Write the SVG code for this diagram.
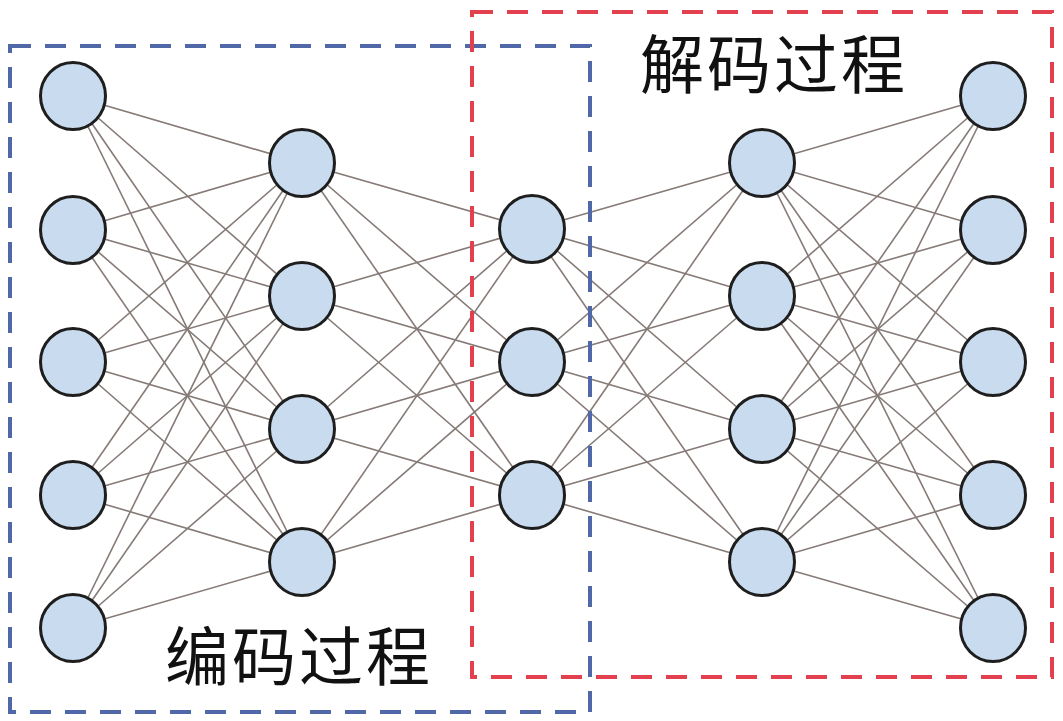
<svg xmlns="http://www.w3.org/2000/svg" width="1063" height="721" viewBox="0 0 1063 721">
<style>
.n{fill:#c9dbee;stroke:#1e1e1e;stroke-width:3}
.e line{stroke:#857a76;stroke-width:1.6}
.box{fill:none;stroke-width:4;stroke-dasharray:21 14}
.t{font-family:"Noto Sans CJK SC","Noto Sans CJK TC",sans-serif;font-size:64px;fill:#111}
</style>
<rect width="1063" height="721" fill="#fff"/>
<g id="connectors" class="e">
<!-- L1 -> L2 -->
<line x1="73" y1="96" x2="302" y2="163"/><line x1="73" y1="96" x2="302" y2="296"/><line x1="73" y1="96" x2="302" y2="429"/><line x1="73" y1="96" x2="302" y2="562"/>
<line x1="73" y1="230" x2="302" y2="163"/><line x1="73" y1="230" x2="302" y2="296"/><line x1="73" y1="230" x2="302" y2="429"/><line x1="73" y1="230" x2="302" y2="562"/>
<line x1="73" y1="362" x2="302" y2="163"/><line x1="73" y1="362" x2="302" y2="296"/><line x1="73" y1="362" x2="302" y2="429"/><line x1="73" y1="362" x2="302" y2="562"/>
<line x1="73" y1="495" x2="302" y2="163"/><line x1="73" y1="495" x2="302" y2="296"/><line x1="73" y1="495" x2="302" y2="429"/><line x1="73" y1="495" x2="302" y2="562"/>
<line x1="73" y1="628" x2="302" y2="163"/><line x1="73" y1="628" x2="302" y2="296"/><line x1="73" y1="628" x2="302" y2="429"/><line x1="73" y1="628" x2="302" y2="562"/>
<!-- L2 -> L3 -->
<line x1="302" y1="163" x2="532" y2="229"/><line x1="302" y1="163" x2="532" y2="362"/><line x1="302" y1="163" x2="532" y2="495"/>
<line x1="302" y1="296" x2="532" y2="229"/><line x1="302" y1="296" x2="532" y2="362"/><line x1="302" y1="296" x2="532" y2="495"/>
<line x1="302" y1="429" x2="532" y2="229"/><line x1="302" y1="429" x2="532" y2="362"/><line x1="302" y1="429" x2="532" y2="495"/>
<line x1="302" y1="562" x2="532" y2="229"/><line x1="302" y1="562" x2="532" y2="362"/><line x1="302" y1="562" x2="532" y2="495"/>
<!-- L3 -> L4 -->
<line x1="532" y1="229" x2="762" y2="163"/><line x1="532" y1="229" x2="762" y2="296"/><line x1="532" y1="229" x2="762" y2="429"/><line x1="532" y1="229" x2="762" y2="562"/>
<line x1="532" y1="362" x2="762" y2="163"/><line x1="532" y1="362" x2="762" y2="296"/><line x1="532" y1="362" x2="762" y2="429"/><line x1="532" y1="362" x2="762" y2="562"/>
<line x1="532" y1="495" x2="762" y2="163"/><line x1="532" y1="495" x2="762" y2="296"/><line x1="532" y1="495" x2="762" y2="429"/><line x1="532" y1="495" x2="762" y2="562"/>
<!-- L4 -> L5 -->
<line x1="762" y1="163" x2="993" y2="96"/><line x1="762" y1="163" x2="993" y2="230"/><line x1="762" y1="163" x2="993" y2="362"/><line x1="762" y1="163" x2="993" y2="495"/><line x1="762" y1="163" x2="993" y2="628"/>
<line x1="762" y1="296" x2="993" y2="96"/><line x1="762" y1="296" x2="993" y2="230"/><line x1="762" y1="296" x2="993" y2="362"/><line x1="762" y1="296" x2="993" y2="495"/><line x1="762" y1="296" x2="993" y2="628"/>
<line x1="762" y1="429" x2="993" y2="96"/><line x1="762" y1="429" x2="993" y2="230"/><line x1="762" y1="429" x2="993" y2="362"/><line x1="762" y1="429" x2="993" y2="495"/><line x1="762" y1="429" x2="993" y2="628"/>
<line x1="762" y1="562" x2="993" y2="96"/><line x1="762" y1="562" x2="993" y2="230"/><line x1="762" y1="562" x2="993" y2="362"/><line x1="762" y1="562" x2="993" y2="495"/><line x1="762" y1="562" x2="993" y2="628"/>
</g>
<g id="layer1">
<g id="n1_1"><ellipse class="n" cx="73" cy="96" rx="32.5" ry="33.5"/></g>
<g id="n1_2"><ellipse class="n" cx="73" cy="230" rx="32.5" ry="33.5"/></g>
<g id="n1_3"><ellipse class="n" cx="73" cy="362" rx="32.5" ry="33.5"/></g>
<g id="n1_4"><ellipse class="n" cx="73" cy="495" rx="32.5" ry="33.5"/></g>
<g id="n1_5"><ellipse class="n" cx="73" cy="628" rx="32.5" ry="33.5"/></g>
</g>
<g id="layer2">
<g id="n2_1"><ellipse class="n" cx="302" cy="163" rx="32.5" ry="33.5"/></g>
<g id="n2_2"><ellipse class="n" cx="302" cy="296" rx="32.5" ry="33.5"/></g>
<g id="n2_3"><ellipse class="n" cx="302" cy="429" rx="32.5" ry="33.5"/></g>
<g id="n2_4"><ellipse class="n" cx="302" cy="562" rx="32.5" ry="33.5"/></g>
</g>
<g id="layer3">
<g id="n3_1"><ellipse class="n" cx="532" cy="229" rx="32.5" ry="33.5"/></g>
<g id="n3_2"><ellipse class="n" cx="532" cy="362" rx="32.5" ry="33.5"/></g>
<g id="n3_3"><ellipse class="n" cx="532" cy="495" rx="32.5" ry="33.5"/></g>
</g>
<g id="layer4">
<g id="n4_1"><ellipse class="n" cx="762" cy="163" rx="32.5" ry="33.5"/></g>
<g id="n4_2"><ellipse class="n" cx="762" cy="296" rx="32.5" ry="33.5"/></g>
<g id="n4_3"><ellipse class="n" cx="762" cy="429" rx="32.5" ry="33.5"/></g>
<g id="n4_4"><ellipse class="n" cx="762" cy="562" rx="32.5" ry="33.5"/></g>
</g>
<g id="layer5">
<g id="n5_1"><ellipse class="n" cx="993" cy="96" rx="32.5" ry="33.5"/></g>
<g id="n5_2"><ellipse class="n" cx="993" cy="230" rx="32.5" ry="33.5"/></g>
<g id="n5_3"><ellipse class="n" cx="993" cy="362" rx="32.5" ry="33.5"/></g>
<g id="n5_4"><ellipse class="n" cx="993" cy="495" rx="32.5" ry="33.5"/></g>
<g id="n5_5"><ellipse class="n" cx="993" cy="628" rx="32.5" ry="33.5"/></g>
</g>
<g id="encoder-box"><rect class="box" x="10" y="46" width="580" height="666" stroke="#5067a8"/></g>
<g id="decoder-box"><rect class="box" x="472" y="12" width="580" height="665" stroke="#e2404e"/></g>
<g id="labels">
<text class="t" x="640" y="88" textLength="265">解码过程</text>
<text class="t" x="165" y="680" textLength="265">编码过程</text>
</g>
</svg>
